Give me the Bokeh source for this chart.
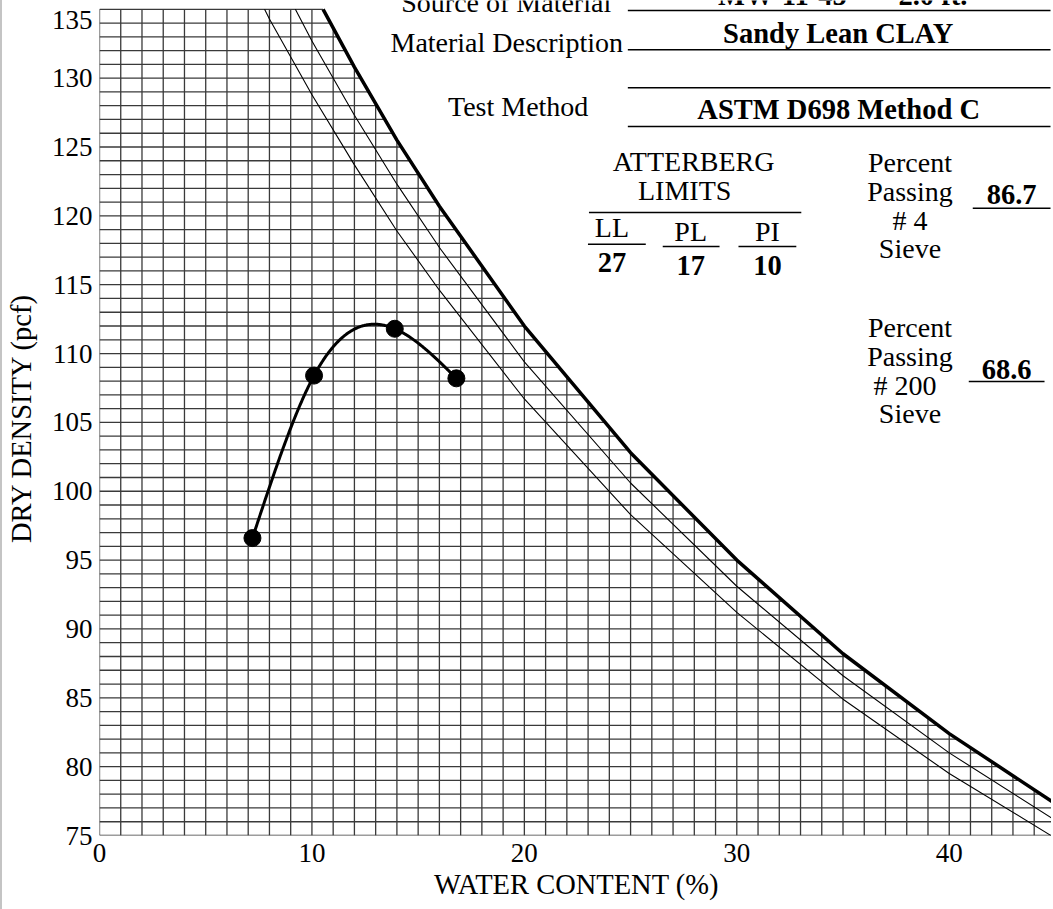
import numpy as np
from bokeh.plotting import figure
from bokeh.models import Label, FixedTicker, Range1d
from bokeh.embed import file_html
from bokeh.resources import INLINE

# ---- data ----
water = [7.2, 10.1, 13.9, 16.8]          # water content (%)
density = [96.6, 108.4, 111.8, 108.2]    # dry density (pcf)

# zero-air-voids curves (Gs = 2.6, 2.7, 2.8), dry density at each water content
zav_water = [6, 8, 10, 12, 14, 16, 20, 25, 30, 35, 40, 45]
zav_26 = [140.4, 134.3, 128.8, 123.7, 118.9, 114.6, 106.7, 98.3, 91.2, 84.9, 79.5, 74.8]
zav_27 = [145.0, 138.6, 132.7, 127.3, 122.3, 117.7, 109.4, 100.6, 93.1, 86.6, 81.0, 76.1]
zav_28 = [149.6, 142.7, 136.5, 130.8, 125.5, 120.7, 112.0, 102.8, 95.0, 88.2, 82.4, 77.3]

x_ticks = [0, 10, 20, 30, 40]
y_ticks = [75, 80, 85, 90, 95, 100, 105, 110, 115, 120, 125, 130, 135]

source_id = "MW-11-45"
source_depth = "2.0 ft."
material = "Sandy Lean CLAY"
test_method = "ASTM D698 Method C"
atterberg_names = ["LL", "PL", "PI"]
atterberg_values = [27, 17, 10]
passing_4 = 86.7
passing_200 = 68.6

# chart extents (grid drawn from X0..XMAX, Y0..Y1)
X0, XMAX, Y0, Y1 = 0, 45, 75, 135
# frame geometry in page pixels
W, H = 1053, 909
EDGE = 2                      # grey page edge on the left
FL, FR, FB = 96, 1053, 835
PX_X = 21.31        # px per % water
PX_Y = 13.77        # px per pcf
XV1 = X0 + (FR - FL) / PX_X          # visible right end
YV1 = Y0 + FB / PX_Y                 # visible top (canvas top)

FONT = "Liberation Serif"
FS = "28px"
FSB = "28.5px"
TICK_FS = "27px"
TITLE_FS = "28.5px"

p = figure(width=W - EDGE, height=H, x_range=Range1d(X0, XV1), y_range=Range1d(Y0, YV1),
           output_backend="svg", toolbar_location=None,
           min_border_left=FL - EDGE, min_border_right=0, min_border_top=0, min_border_bottom=H - FB,
           x_axis_label="WATER CONTENT (%)", y_axis_label="DRY DENSITY (pcf)")
p.styles = {"border-left": f"{EDGE}px solid #c4c4c4"}
p.outline_line_color = None
p.grid.visible = False
p.background_fill_color = "white"
p.border_fill_color = "white"

for ax in (p.xaxis[0], p.yaxis[0]):
    ax.axis_line_color = None
    ax.major_tick_line_color = None
    ax.minor_tick_line_color = None
    ax.major_tick_out = 0
    ax.major_tick_in = 0
    ax.major_label_text_font = FONT
    ax.major_label_text_font_size = TICK_FS
    ax.major_label_text_color = "black"
    ax.axis_label_text_font = FONT
    ax.axis_label_text_font_size = TITLE_FS
    ax.axis_label_text_font_style = "normal"
    ax.axis_label_text_color = "black"
p.xaxis.ticker = FixedTicker(ticks=x_ticks)
# the top label sits a little below its grid line in the reference
top_label_pos = Y1 - 11 / PX_Y
p.yaxis.ticker = FixedTicker(ticks=[t if t != Y1 else top_label_pos for t in y_ticks])
p.yaxis.major_label_overrides = {top_label_pos: str(Y1)}
p.xaxis.major_label_standoff = 8
p.xaxis.axis_label_standoff = 4
p.yaxis.major_label_standoff = 7
p.yaxis.axis_label_standoff = 12

# grid clipped below the bold zero-air-voids curve
gx = np.arange(X0, XMAX + 1)
gtop = np.minimum(Y1, np.interp(gx, zav_water, zav_28))
p.segment(x0=gx, y0=np.full(len(gx), Y0), x1=gx, y1=gtop, line_color="#3a3a3a", line_width=1.3)
gy = np.arange(Y0, Y1 + 1)
gright = np.interp(gy, zav_28[::-1], zav_water[::-1])
p.segment(x0=np.zeros(len(gy)), y0=gy, x1=gright, y1=gy, line_color="#3a3a3a", line_width=1.3)

# zero-air-voids lines stop at the top grid line
def clip_top(xs, ys, ymax):
    ox, oy = [], []
    for i in range(len(xs)):
        if ys[i] <= ymax:
            if i > 0 and ys[i - 1] > ymax:
                t = (ys[i - 1] - ymax) / (ys[i - 1] - ys[i])
                ox.append(xs[i - 1] + t * (xs[i] - xs[i - 1])); oy.append(ymax)
            ox.append(xs[i]); oy.append(ys[i])
    return ox, oy

for curve, lw in ((zav_26, 1.1), (zav_27, 1.1), (zav_28, 3.5)):
    cxs, cys = clip_top(zav_water, curve, Y1)
    p.line(cxs, cys, line_color="black", line_width=lw)

# smooth compaction curve (natural cubic spline through the test points)
def natural_spline(x, y, n=300):
    x = np.asarray(x, float); y = np.asarray(y, float)
    k = len(x); h = np.diff(x)
    A = np.zeros((k, k)); r = np.zeros(k)
    A[0, 0] = A[-1, -1] = 1
    for i in range(1, k - 1):
        A[i, i - 1] = h[i - 1]; A[i, i] = 2 * (h[i - 1] + h[i]); A[i, i + 1] = h[i]
        r[i] = 6 * ((y[i + 1] - y[i]) / h[i] - (y[i] - y[i - 1]) / h[i - 1])
    M = np.linalg.solve(A, r)
    xx = np.linspace(x[0], x[-1], n)
    j = np.clip(np.searchsorted(x, xx) - 1, 0, k - 2)
    hj = h[j]; a = x[j + 1] - xx; b = xx - x[j]
    yy = (M[j] * a ** 3 + M[j + 1] * b ** 3) / (6 * hj) \
        + (y[j] / hj - M[j] * hj / 6) * a + (y[j + 1] / hj - M[j + 1] * hj / 6) * b
    return xx, yy

cx, cy = natural_spline(water, density)
p.line(cx, cy, line_color="black", line_width=3)
p.scatter(water, density, size=17, marker="circle", fill_color="black", line_color="black")

# ---- header texts, placed by page-pixel position in the frame ----
BASE_FIX = 10   # Label alphabetic baseline correction (px)
def dx(px):
    return X0 + (px - FL) / PX_X
def dy(py):
    return Y0 + (FB - py) / PX_Y

def txt(s, cxp, base, bold=False):
    p.add_layout(Label(x=dx(cxp), y=dy(base - BASE_FIX), text=str(s), text_font=FONT,
                       text_font_size=FSB if bold else FS,
                       text_font_style="bold" if bold else "normal", text_align="center",
                       text_baseline="alphabetic", text_color="black"))

def rule(x0, x1, yp):
    p.segment(x0=[dx(x0)], y0=[dy(yp)], x1=[dx(x1)], y1=[dy(yp)], line_color="black", line_width=1.6)

txt("Source of Material", 504, 12)
txt("Material Description", 504.5, 51.7)
txt("Test Method", 516, 116)
txt(source_id, 781, 5, True)
txt(source_depth, 932, 5, True)
txt(material, 837, 43.3, True)
txt(test_method, 837.5, 119.3, True)
for yy in (10, 49.3, 87.3, 126):
    rule(626, 1050, yy)

txt("ATTERBERG", 692, 171)
txt("LIMITS", 683, 200)
rule(587, 800, 212)
acx = [610, 689, 766]
abase = [237, 241, 241]
aline = [(586, 644, 243.7), (661, 718, 246), (737, 795, 246)]
vbase = [272, 275, 275]
for name, val, c, b, ln, vb in zip(atterberg_names, atterberg_values, acx, abase, aline, vbase):
    txt(name, c, b)
    rule(*ln)
    txt(val, c, vb, True)

for s, b in zip(["Percent", "Passing", "# 4", "Sieve"], [172, 201, 230, 258]):
    txt(s, 909, b)
txt(f"{passing_4:.1f}", 1011, 204, True)
rule(972, 1050, 207.7)

for s, b, c in zip(["Percent", "Passing", "# 200", "Sieve"], [337, 366, 395, 423], [909, 909, 904, 909]):
    txt(s, c, b)
txt(f"{passing_200:.1f}", 1006, 379, True)
rule(968, 1044, 381)

open("out.html", "w").write(file_html(p, INLINE))
